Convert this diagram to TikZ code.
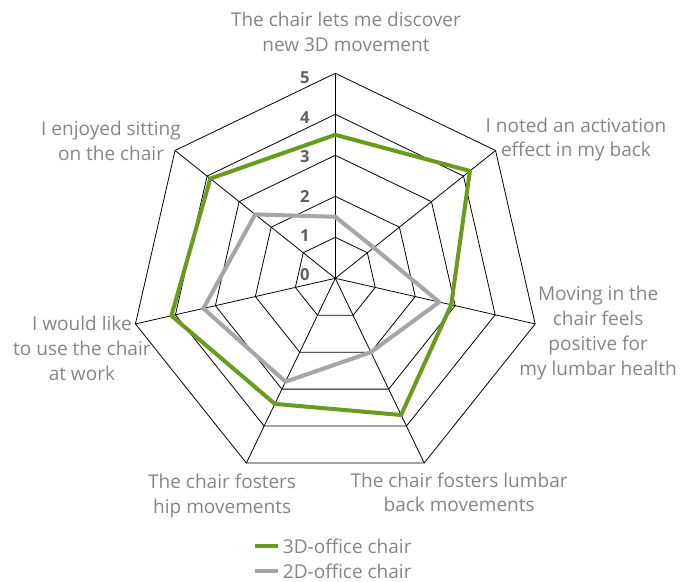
\documentclass[tikz,border=0pt]{standalone}
\usepackage{fontspec}
\setmainfont{Open Sans}
\definecolor{chairgreen}{HTML}{6B9B1E}
\definecolor{chairgray}{HTML}{A6A6A6}
\definecolor{labelgray}{HTML}{858585}
\definecolor{tickgray}{HTML}{5F5F5F}
\begin{document}
\begin{tikzpicture}[x=1cm,y=1cm,
    gridline/.style={black, line width=0.55pt},
    line3d/.style={chairgreen, line width=2.8pt, line join=round},
    line2d/.style={chairgray, line width=2.8pt, line join=round},
    axislabel/.style={align=center, text=labelgray, font=\fontsize{13.2}{17.3}\selectfont},
    ticklabel/.style={anchor=east, text=tickgray, font=\fontsize{11.5}{14}\selectfont\bfseries}]
    \useasboundingbox (-8.178,-7.383) rectangle (8.7,6.788);

    % Web: one heptagon per level
    \foreach \r in {1,...,5} {
        \draw[gridline] (90:\r) \foreach \k in {1,...,6} { -- ({90-\k*360/7}:\r) } -- cycle;
    }

    % Spokes
    \foreach \k in {0,...,6} {
        \draw[gridline] (0,0) -- ({90-\k*360/7}:5);
    }

    % Scale 0..5
    \foreach \v in {0,...,5} {
        \node[ticklabel] (tick\v) at (-0.50,{0.08+\v*0.962}) {\v};
    }

    % 2D-office chair
    \draw[line2d] (90:1.5) \foreach \v [count=\k] in {1.2,2.6,2.0,2.8,3.3,2.5} { -- ({90-\k*360/7}:\v) } -- cycle;

    % 3D-office chair
    \draw[line3d] (90:3.5) \foreach \v [count=\k] in {4.2,2.9,3.7,3.4,4.1,3.9} { -- ({90-\k*360/7}:\v) } -- cycle;

    % Statements round the web
    \node[axislabel] (discover) at (0.26,6.0) {The chair lets me discover\\new 3D movement};
    \node[axislabel] (activation) at (5.87,3.385) {I noted an activation\\effect in my back};
    \node[axislabel] (lumbar) at (6.41,-1.334) {Moving in the\\chair feels\\positive for\\my lumbar health};
    \node[axislabel] (backmove) at (3.02,-5.22) {The chair fosters lumbar\\back movements};
    \node[axislabel] (hipmove) at (-2.76,-5.30) {The chair fosters\\hip movements};
    \node[axislabel] (atwork) at (-6.18,-1.70) {I would like\\to use the chair\\at work};
    \node[axislabel] (enjoyed) at (-5.47,3.36) {I enjoyed sitting\\on the chair};

    % Legend
    \coordinate (leg3a) at (-1.96,-6.53);
    \coordinate (leg3b) at (-1.40,-6.53);
    \coordinate (leg2a) at (-1.96,-7.14);
    \coordinate (leg2b) at (-1.40,-7.14);
    \draw[line3d] (leg3a) -- (leg3b);
    \draw[line2d] (leg2a) -- (leg2b);
    \node[axislabel, anchor=west, inner sep=1pt] (leg3) at (-1.32,-6.53) {3D-office chair};
    \node[axislabel, anchor=west, inner sep=1pt] (leg2) at (-1.32,-7.14) {2D-office chair};
\end{tikzpicture}
\end{document}
